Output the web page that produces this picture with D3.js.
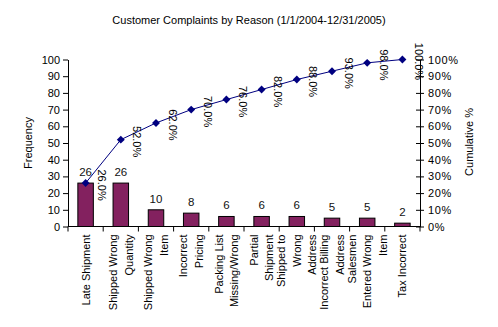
<!DOCTYPE html>
<html>
<head>
<meta charset="utf-8">
<script src="https://cdn.jsdelivr.net/npm/d3@7"></script>
<style>
  body { margin: 0; background: #fff; }
  svg { font-family: "Liberation Sans", Arial, sans-serif; }
</style>
</head>
<body>
<svg id="chart"></svg>
<script>
// Complaint reasons, split into the lines shown under each bar
const reasons = [
  ['Late Shipment'],
  ['Shipped Wrong', 'Quantity'],
  ['Shipped Wrong', 'Item'],
  ['Incorrect', 'Pricing'],
  ['Packing List', 'Missing/Wrong'],
  ['Partial', 'Shipment'],
  ['Shipped to', 'Wrong', 'Address'],
  ['Incorrect Billing', 'Address'],
  ['Salesmen', 'Entered Wrong', 'Item'],
  ['Tax Incorrect']
];
const frequency = [26, 26, 10, 8, 6, 6, 6, 5, 5, 2];
const cumulativePct = [26, 52, 62, 70, 76, 82, 88, 93, 98, 100];
const freqTicks = [0, 10, 20, 30, 40, 50, 60, 70, 80, 90, 100];
const pctTicks = [0, 10, 20, 30, 40, 50, 60, 70, 80, 90, 100];

const config = {
  width: 498,
  height: 327,
  margin: { top: 59.5, right: 78, bottom: 100.5, left: 68 },
  fontSize: 11
};

const svg = d3.select('#chart')
  .attr('width', config.width)
  .attr('height', config.height);

const innerW = config.width - config.margin.left - config.margin.right;
const innerH = config.height - config.margin.top - config.margin.bottom;

const chart = svg.append('g')
  .attr('transform', `translate(${config.margin.left},${config.margin.top})`);

// Scales
const xScale = d3.scaleBand()
  .domain(d3.range(reasons.length))
  .range([0, innerW])
  .paddingInner(0.56)
  .paddingOuter(0.28);

const yScale = d3.scaleLinear()
  .domain([0, 100])
  .range([innerH, 0]);

const pctScale = d3.scaleLinear()
  .domain([0, 100])
  .range([innerH, 0]);

const step = innerW / reasons.length;
const cx = i => xScale(i) + xScale.bandwidth() / 2;

// Title
svg.append('text')
  .attr('x', 249)
  .attr('y', 24)
  .attr('text-anchor', 'middle')
  .attr('font-size', config.fontSize)
  .text('Customer Complaints by Reason (1/1/2004-12/31/2005)');

// Bars
chart.selectAll('.bar')
  .data(frequency)
  .join('rect')
  .attr('class', 'bar')
  .attr('x', (d, i) => xScale(i))
  .attr('y', d => yScale(d))
  .attr('width', xScale.bandwidth())
  .attr('height', d => innerH - yScale(d))
  .attr('fill', '#83215f')
  .attr('stroke', '#000')
  .attr('stroke-width', 1);

// Frequency labels above bars
chart.selectAll('.bar-label')
  .data(frequency)
  .join('text')
  .attr('class', 'bar-label')
  .attr('x', (d, i) => cx(i))
  .attr('y', d => yScale(d) - 7)
  .attr('text-anchor', 'middle')
  .attr('font-size', 11.5)
  .attr('fill', '#111')
  .text(d => d);

// Left axis
const yAxis = d3.axisLeft(yScale)
  .tickValues(freqTicks)
  .tickSize(5)
  .tickPadding(3)
  .tickSizeOuter(0);

chart.append('g')
  .attr('class', 'y-axis')
  .call(yAxis)
  .call(g => g.selectAll('text').attr('font-size', config.fontSize).attr('fill', '#000'))
  .call(g => g.selectAll('line, path').attr('stroke', '#000'));

// Right axis, ticks crossing the line
const pctAxis = d3.axisRight(pctScale)
  .tickValues(pctTicks)
  .tickSize(4)
  .tickPadding(4)
  .tickSizeOuter(0)
  .tickFormat(d => d + '%');

chart.append('g')
  .attr('class', 'pct-axis')
  .attr('transform', `translate(${innerW},0)`)
  .call(pctAxis)
  .call(g => g.selectAll('.tick line').attr('x1', -4))
  .call(g => g.selectAll('text').attr('font-size', config.fontSize).attr('letter-spacing', 0.6).attr('fill', '#000'))
  .call(g => g.selectAll('line, path').attr('stroke', '#000'));

// Bottom axis line with ticks between categories
chart.append('line')
  .attr('x1', 0).attr('x2', innerW)
  .attr('y1', innerH).attr('y2', innerH)
  .attr('stroke', '#000');

chart.selectAll('.x-tick')
  .data(d3.range(reasons.length + 1))
  .join('line')
  .attr('class', 'x-tick')
  .attr('x1', d => d * step)
  .attr('x2', d => d * step)
  .attr('y1', innerH)
  .attr('y2', innerH + 5)
  .attr('stroke', '#000');

// Category labels, rotated, one tspan per line
const lineGap = 15.5;
const catLabels = chart.selectAll('.cat-label')
  .data(reasons)
  .join('text')
  .attr('class', 'cat-label')
  .attr('font-size', config.fontSize)
  .attr('text-anchor', 'end')
  .attr('transform', (d, i) => `translate(${cx(i)},${innerH + 8}) rotate(-90)`);

catLabels.each(function(lines) {
  const t = d3.select(this);
  lines.forEach((ln, j) => {
    t.append('tspan')
      .attr('x', 0)
      .attr('y', (j - (lines.length - 1) / 2) * lineGap)
      .attr('dy', '0.36em')
      .text(ln);
  });
});

// Cumulative line
const line = d3.line()
  .x((d, i) => cx(i))
  .y(d => pctScale(d));

chart.append('path')
  .datum(cumulativePct)
  .attr('fill', 'none')
  .attr('stroke', '#000080')
  .attr('stroke-width', 1)
  .attr('d', line);

chart.selectAll('.marker')
  .data(cumulativePct)
  .join('path')
  .attr('class', 'marker')
  .attr('d', d3.symbol(d3.symbolDiamond2, 40))
  .attr('transform', (d, i) => `translate(${cx(i)},${pctScale(d)})`)
  .attr('fill', '#000080');

// Cumulative percent labels, rotated to the right of each point
chart.selectAll('.pct-label')
  .data(cumulativePct)
  .join('text')
  .attr('class', 'pct-label')
  .attr('font-size', config.fontSize)
  .attr('text-anchor', 'middle')
  .attr('transform', (d, i) => `translate(${cx(i) + 16.5},${pctScale(d) + 2}) rotate(90)`)
  .attr('dy', '0.36em')
  .text(d => d3.format('.1f')(d) + '%');

// Axis titles
svg.append('text')
  .attr('transform', 'translate(28,143) rotate(-90)')
  .attr('dy', '0.36em')
  .attr('text-anchor', 'middle')
  .attr('font-size', config.fontSize)
  .text('Frequency');

svg.append('text')
  .attr('transform', 'translate(469,142) rotate(-90)')
  .attr('dy', '0.36em')
  .attr('text-anchor', 'middle')
  .attr('font-size', config.fontSize)
  .text('Cumulative %');
</script>
</body>
</html>
